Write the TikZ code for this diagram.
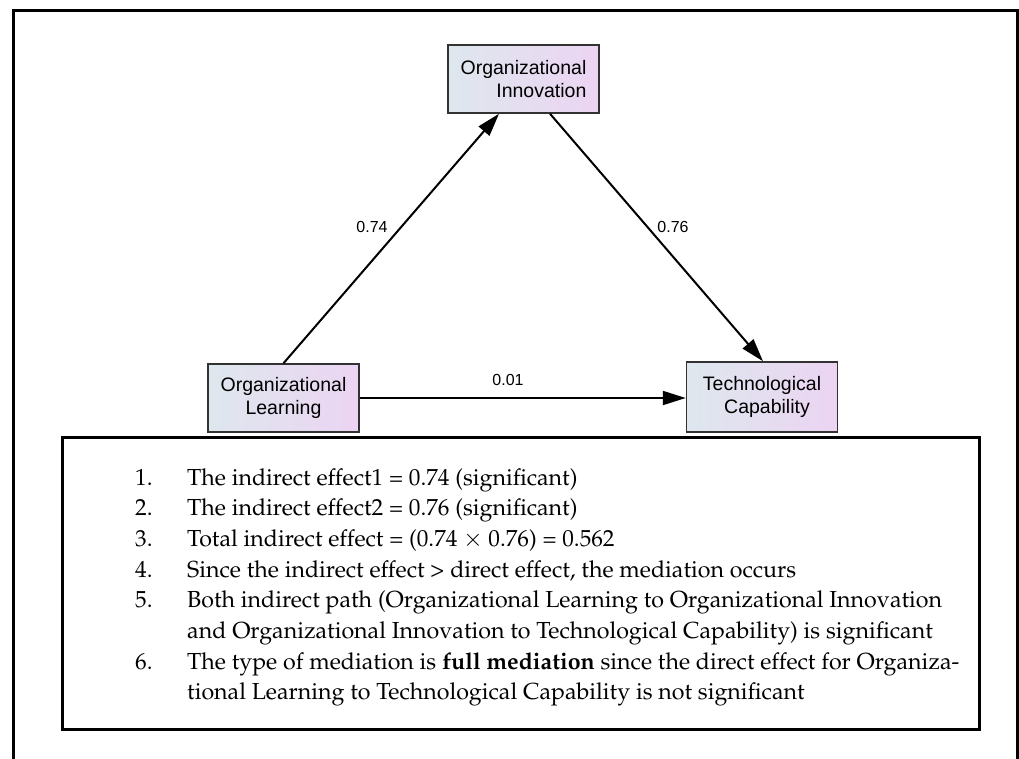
\documentclass[tikz,border=0pt]{standalone}
\usepackage[T1,TU]{fontenc}
\usepackage{fontspec}
\newfontfamily\arialf{Liberation Sans}
\newcommand\palat{\fontencoding{T1}\fontfamily{ppl}\selectfont}
\usetikzlibrary{arrows.meta}
\definecolor{boxL}{RGB}{222,231,238}
\definecolor{boxR}{RGB}{236,212,242}
\definecolor{boxD}{RGB}{50,50,50}
\tikzset{
  varbox/.style={draw=boxD, line width=1.5pt, left color=boxL, right color=boxR,
    minimum width=151pt, minimum height=68pt, inner sep=0pt,
    font=\arialf\fontsize{19.5}{23}\selectfont},
  patharrow/.style={line width=2pt, -{Triangle[length=23pt,width=14pt]}},
  coef/.style={font=\arialf\fontsize{16}{18}\selectfont, inner sep=0pt},
  frameline/.style={line width=3pt},
  numlbl/.style={anchor=base west, inner sep=0pt, font=\palat\fontsize{23.2}{27}\selectfont},
  itemtxt/.style={anchor=base west, inner sep=0pt, font=\palat\fontsize{23.2}{27}\selectfont}
}
\begin{document}
\begin{tikzpicture}[x=1pt,y=-1pt]
\useasboundingbox (0,0) rectangle (1019,758);
% outer frame
\draw[frameline] (13,770) -- (13,10) -- (1017,10) -- (1017,770);
% nodes
\node[varbox, align=right] (Innov) at (523.5,79) {Organizational\\Innovation};
\node[varbox, align=center] (Learn) at (283.5,398) {Organizational\\Learning};
\node[varbox, align=center, minimum height=70pt] (Tech) at (762,397) {Technological\\\hspace*{10pt}Capability};
% arrows
\coordinate (a1e) at ([xshift=-24.5pt]Innov.south);
\coordinate (a2s) at ([xshift=26.5pt]Innov.south);
\coordinate (a2e) at ([xshift=1pt]Tech.north);
\draw[patharrow] (Learn.north) -- (a1e);
\draw[patharrow] (a2s) -- (a2e);
\draw[patharrow] (Learn.east) -- (Learn.east -| Tech.west);
% coefficients
\node[coef] (c1) at (372,227) {0.74};
\node[coef] (c2) at (673,227) {0.76};
\node[coef] (c3) at (508,380) {0.01};
% text box
\draw[frameline] (62,437) rectangle (979,729);
\node[numlbl] (n1) at (135,485) {1.};
\node[itemtxt] (t1) at (187,485) {The indirect effect1 = 0.74 (significant)};
\node[numlbl] (n2) at (135,515.7) {2.};
\node[itemtxt] (t2) at (187,515.7) {The indirect effect2 = 0.76 (significant)};
\node[numlbl] (n3) at (135,546.4) {3.};
\node[itemtxt] (t3) at (187,546.4) {Total indirect effect = (0.74 $\times$ 0.76) = 0.562};
\node[numlbl] (n4) at (135,577.1) {4.};
\node[itemtxt] (t4) at (187,577.1) {Since the indirect effect > direct effect, the mediation occurs};
\node[numlbl] (n5) at (135,607.8) {5.};
\node[itemtxt] (t5) at (187,607.8) {Both indirect path (Organizational Learning to Organizational Innovation};
\node[itemtxt] (t5b) at (187,638.5) {and Organizational Innovation to Technological Capability) is significant};
\node[numlbl] (n6) at (135,669.2) {6.};
\node[itemtxt] (t6) at (187,669.2) {The type of mediation is \textbf{full mediation} since the direct effect for Organiza-};
\node[itemtxt] (t6b) at (187,699.9) {tional Learning to Technological Capability is not significant};
\end{tikzpicture}
\end{document}
